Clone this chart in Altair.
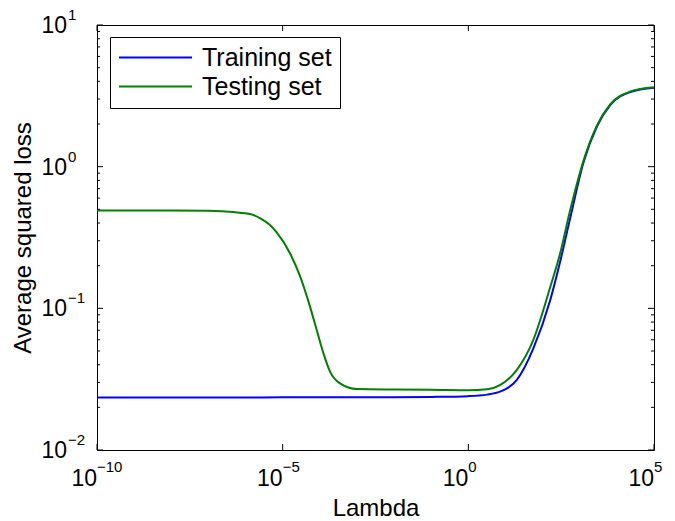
import altair as alt
import pandas as pd

FONT = "Liberation Sans, Arial, Helvetica, sans-serif"

# ---- data ----
lam_train = [1e-10, 1e-8, 1e-6, 1e-4, 1e-2, 1e-1, 1, 3.2, 7.1, 20, 56, 160, 295, 550,
             1260, 2900, 6600, 23000, 1e5]
loss_train = [0.0235, 0.0235, 0.0235, 0.0236, 0.0236, 0.0237, 0.0240, 0.0246, 0.0258,
              0.0311, 0.052, 0.114, 0.212, 0.43, 1.07, 1.92, 2.72, 3.36, 3.60]

lam_test = [1e-10, 1e-8, 1e-7, 4.7e-7, 1.4e-6, 2.5e-6, 4.3e-6, 6.9e-6, 1.6e-5, 3.0e-5,
            5.5e-5, 8.3e-5, 1.26e-4, 1.9e-4, 3.5e-4, 1e-3, 1e-2, 1e-1, 1, 3.2, 7.1, 20,
            56, 160, 295, 550, 1260, 2900, 6600, 23000, 1e5]
loss_test = [0.49, 0.49, 0.488, 0.478, 0.461, 0.432, 0.392, 0.344, 0.243, 0.166, 0.102,
             0.070, 0.0479, 0.0356, 0.0295, 0.0269, 0.0267, 0.0266, 0.0264, 0.0268,
             0.0287, 0.0366, 0.0596, 0.141, 0.243, 0.49, 1.10, 1.95, 2.75, 3.39, 3.63]

series_names = ["Training set", "Testing set"]
series_colors = ["#0000ff", "#008000"]

x_major = [1e-10, 1e-5, 1, 1e5]
x_exp = ["\u221210", "\u22125", "0", "5"]
y_major = [0.01, 0.1, 1, 10]
y_exp = ["\u22122", "\u22121", "0", "1"]
y_minor = [m * 10.0 ** k for k in (-2, -1, 0) for m in range(2, 10)]

W, H = 557, 425

train_df = pd.DataFrame({"lam": lam_train, "loss": loss_train, "series": series_names[0]})
test_df = pd.DataFrame({"lam": lam_test, "loss": loss_test, "series": series_names[1]})

xscale = alt.Scale(type="log", domain=[1e-10, 1e5], nice=False)
yscale = alt.Scale(type="log", domain=[0.01, 10], nice=False)
cscale = alt.Scale(domain=series_names, range=series_colors)

legend = alt.Legend(
    orient="none", legendX=13, legendY=12, title=None,
    symbolType="stroke", symbolSize=5329, symbolStrokeWidth=2,
    labelFont=FONT, labelFontSize=25, labelColor="black", labelOffset=9,
    strokeColor="black", fillColor="white", padding=8, rowPadding=3,
    clipHeight=25, cornerRadius=0,
)

xaxis = alt.Axis(title="Lambda", ticks=False, labels=False, domain=False, grid=False,
                 titleFont=FONT, titleFontSize=24, titleFontWeight="normal",
                 titleColor="black", titlePadding=46)
yaxis = alt.Axis(title="Average squared loss", ticks=False, labels=False, domain=False,
                 grid=False, titleFont=FONT, titleFontSize=24, titleFontWeight="normal",
                 titleColor="black", titlePadding=62)

X = lambda: alt.X("lam:Q", scale=xscale, axis=xaxis)
Y = lambda: alt.Y("loss:Q", scale=yscale, axis=yaxis)


def line_layer(df):
    return alt.Chart(df).mark_line(strokeWidth=2, interpolate="monotone").encode(
        x=X(), y=Y(),
        color=alt.Color("series:N", scale=cscale, legend=legend),
    )


train_line = line_layer(train_df)
test_line = line_layer(test_df)

xmaj_df = pd.DataFrame({"lam": x_major, "exp": x_exp, "base": "10"})
ymaj_df = pd.DataFrame({"loss": y_major, "exp": y_exp, "base": "10"})
ymin_df = pd.DataFrame({"loss": y_minor})


def yticks(df, x0, x1):
    return alt.Chart(df).mark_rule(color="black", strokeWidth=1).encode(
        y=Y(), x=alt.value(x0), x2=alt.value(x1))


def xticks(df, y0, y1):
    return alt.Chart(df).mark_rule(color="black", strokeWidth=1).encode(
        x=X(), y=alt.value(y0), y2=alt.value(y1))


tick_layers = [
    yticks(ymaj_df, 0, 6), yticks(ymaj_df, W, W - 6),
    yticks(ymin_df, 0, 3), yticks(ymin_df, W, W - 3),
    xticks(xmaj_df, 0, 6), xticks(xmaj_df, H, H - 6),
]

ylab_base = alt.Chart(ymaj_df).mark_text(
    align="right", baseline="middle", font=FONT, fontSize=23, color="black", dy=1
).encode(y=Y(), x=alt.value(-30), text="base:N")
ylab_exp = alt.Chart(ymaj_df).mark_text(
    align="left", baseline="middle", font=FONT, fontSize=15, color="black", dy=-10
).encode(y=Y(), x=alt.value(-29), text="exp:N")

xlab_base = alt.Chart(xmaj_df).mark_text(
    align="right", baseline="middle", font=FONT, fontSize=23, color="black"
).encode(x=X(), y=alt.value(H + 29), text="base:N")
xlab_exp = alt.Chart(xmaj_df).mark_text(
    align="left", baseline="middle", font=FONT, fontSize=15, color="black", dx=0
).encode(x=X(), y=alt.value(H + 17), text="exp:N")

chart = alt.layer(
    train_line, test_line, *tick_layers, ylab_base, ylab_exp, xlab_base, xlab_exp
).properties(
    width=W, height=H,
    autosize=alt.AutoSizeParams(type="none"),
    padding={"left": 97, "top": 25, "right": 21, "bottom": 71},
    background="white",
).configure_view(stroke="black", strokeWidth=1)

chart.save("out.html", embed_options={"renderer": "svg", "actions": False})
